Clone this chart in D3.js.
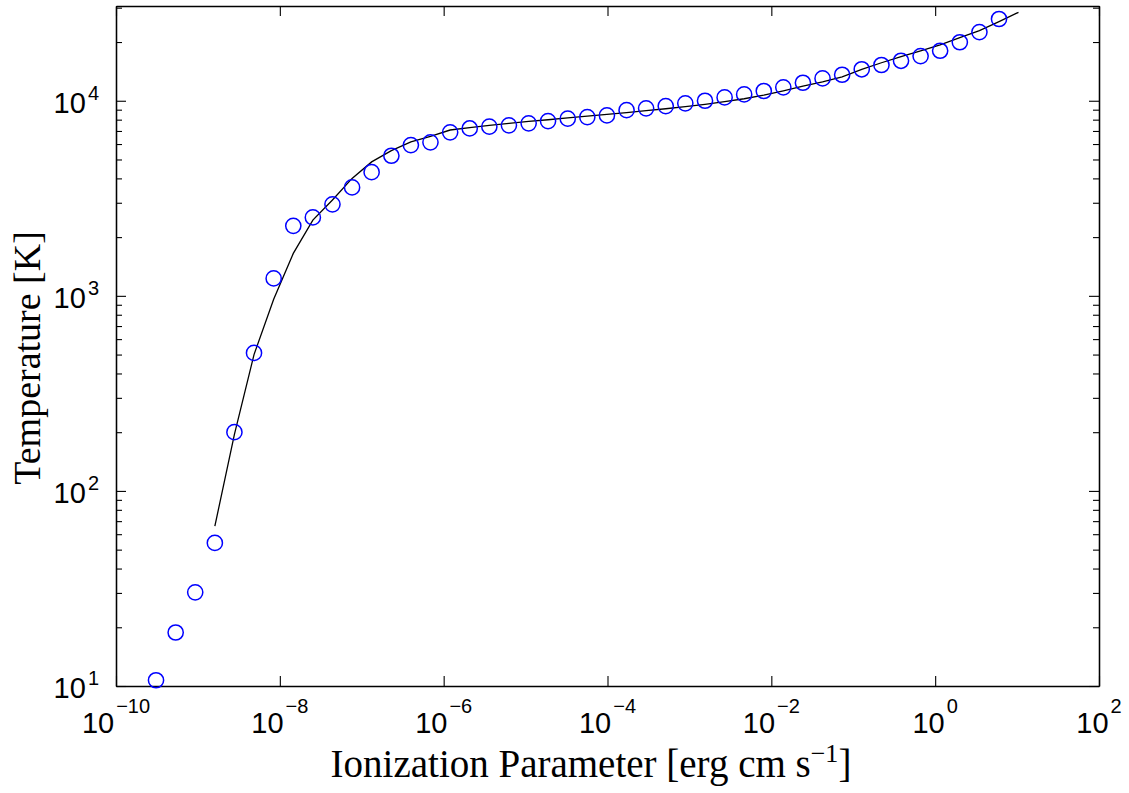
<!DOCTYPE html>
<meta charset="utf-8">
<script src="https://d3js.org/d3.v7.min.js"></script>
<style>
  body { margin: 0; background: #fff; }
</style>
<div id="chart"></div>
<script>

    // measured points: ionization parameter [erg cm s^-1] and temperature [K]
    var pointXi = [3.08e-10, 5.35e-10, 9.27e-10, 1.61e-9, 2.79e-9, 4.84e-9, 8.41e-9, 1.46e-8,
        2.53e-8, 4.39e-8, 7.62e-8, 1.32e-7, 2.30e-7, 3.98e-7, 6.90e-7, 1.20e-6,
        2.08e-6, 3.61e-6, 6.26e-6, 1.09e-5, 1.88e-5, 3.27e-5, 5.67e-5, 9.84e-5,
        1.71e-4, 2.96e-4, 5.14e-4, 8.91e-4, 1.55e-3, 2.69e-3, 4.66e-3, 8.09e-3,
        1.40e-2, 2.43e-2, 4.22e-2, 7.32e-2, 0.127, 0.221, 0.383, 0.664,
        1.15, 2.0, 3.47, 6.02];
    var pointT = [10.7, 18.8, 30.2, 54.1, 200, 510, 1228, 2285,
        2523, 2944, 3597, 4304, 5224, 5929, 6124, 6886,
        7210, 7362, 7480, 7660, 7870, 8090, 8250, 8410,
        8950, 9140, 9390, 9700, 10000, 10400, 10780, 11220,
        11720, 12370, 13020, 13590, 14500, 15250, 16030, 16950,
        18040, 19950, 22500, 26240];

    // model curve
    var curveXi = [1.61e-9, 2.79e-9, 4.84e-9, 8.41e-9, 1.46e-8, 2.53e-8, 4.39e-8, 7.62e-8,
        1.32e-7, 2.30e-7, 3.98e-7, 6.90e-7, 1.20e-6, 2.08e-6, 3.61e-6, 6.26e-6,
        1.09e-5, 1.88e-5, 3.27e-5, 5.67e-5, 9.84e-5, 1.71e-4, 2.96e-4, 5.14e-4,
        8.91e-4, 1.55e-3, 2.69e-3, 4.66e-3, 8.09e-3, 1.40e-2, 2.43e-2, 4.22e-2,
        7.32e-2, 0.127, 0.221, 0.383, 0.664, 1.15, 2.0, 3.47, 6.02, 10.4];
    var curveT = [66, 195, 500, 960, 1650, 2443, 3100, 4000,
        4860, 5550, 6150, 6570, 7080, 7280, 7480, 7660,
        7840, 7990, 8180, 8350, 8520, 8690, 8900, 9100,
        9320, 9590, 9890, 10240, 10690, 11250, 11890, 12500,
        13270, 14500, 15660, 16820, 18040, 19360, 21040, 22860, 25420, 28400];

    // tick exponents
    var xTickExp = [-10, -8, -6, -4, -2, 0, 2];
    var yTickExp = [1, 2, 3, 4];

    var margin = {top: 6, right: 30, bottom: 107, left: 116},
        width = 1129 - margin.left - margin.right,
        height = 793 - margin.top - margin.bottom;

    var svg = d3.select("#chart")
        .append("svg")
            .attr("width", 1129)
            .attr("height", 793)
        .append("g")
            .attr("transform", "translate(" + margin.left + "," + margin.top + ")");

    var x = d3.scaleLog()
        .domain([1e-10, 1e2])
        .range([0, width]);

    var y = d3.scaleLog()
        .domain([10, 30600])
        .range([height, 0]);

    var xMajor = xTickExp.map(function(e) { return Math.pow(10, e); });
    var yMajor = yTickExp.map(function(e) { return Math.pow(10, e); });
    var yMinor = [];
    yTickExp.forEach(function(e) {
        for (var m = 2; m <= 9; m++) {
            var v = m * Math.pow(10, e);
            if (v <= y.domain()[1]) yMinor.push(v);
        }
    });

    function styleAxis(g) {
        g.selectAll("path.domain").attr("stroke", "#000").attr("stroke-width", 1.3);
        g.selectAll(".tick line").attr("stroke", "#000").attr("stroke-width", 1.1);
    }

    // box + inward ticks
    svg.append("g")
        .attr("transform", "translate(0," + height + ")")
        .call(d3.axisBottom(x).tickValues(xMajor).tickSizeInner(-10).tickSizeOuter(0).tickFormat(""))
        .call(styleAxis);
    svg.append("g")
        .call(d3.axisTop(x).tickValues(xMajor).tickSizeInner(-10).tickSizeOuter(0).tickFormat(""))
        .call(styleAxis);
    svg.append("g")
        .call(d3.axisLeft(y).tickValues(yMajor).tickSizeInner(-10).tickSizeOuter(0).tickFormat(""))
        .call(styleAxis);
    svg.append("g")
        .call(d3.axisLeft(y).tickValues(yMinor).tickSizeInner(-6).tickSizeOuter(0).tickFormat(""))
        .call(styleAxis);
    svg.append("g")
        .attr("transform", "translate(" + width + ",0)")
        .call(d3.axisRight(y).tickValues(yMajor).tickSizeInner(-10).tickSizeOuter(0).tickFormat(""))
        .call(styleAxis);
    svg.append("g")
        .attr("transform", "translate(" + width + ",0)")
        .call(d3.axisRight(y).tickValues(yMinor).tickSizeInner(-6).tickSizeOuter(0).tickFormat(""))
        .call(styleAxis);

    function supText(e) { return e < 0 ? "\u2212" + Math.abs(e) : String(e); }

    // x tick labels
    var xl = svg.append("g").selectAll("text")
        .data(xTickExp)
        .enter()
        .append("text")
            .attr("x", function(d) { return x(Math.pow(10, d)); })
            .attr("y", height + 47)
            .attr("text-anchor", "middle")
            .style("font-family", "'Liberation Sans', Arial, sans-serif")
            .style("font-size", "29px");
    xl.append("tspan").text("10");
    xl.append("tspan")
        .attr("dx", 2)
        .attr("dy", -20)
        .style("font-size", "20px")
        .text(function(d) { return supText(d); });

    // y tick labels
    var yl = svg.append("g").selectAll("text")
        .data(yTickExp)
        .enter()
        .append("text")
            .attr("x", -17)
            .attr("y", function(d) { return y(Math.pow(10, d)) + 12; })
            .attr("text-anchor", "end")
            .style("font-family", "'Liberation Sans', Arial, sans-serif")
            .style("font-size", "29px");
    yl.append("tspan").text("10");
    yl.append("tspan")
        .attr("dx", 2)
        .attr("dy", -13)
        .style("font-size", "20px")
        .text(function(d) { return supText(d); });

    // model curve
    var curve = curveXi.map(function(d, i) { return [d, curveT[i]]; });
    svg.append("path")
        .datum(curve)
        .attr("d", d3.line()
            .x(function(d) { return x(d[0]); })
            .y(function(d) { return y(d[1]); }))
        .attr("fill", "none")
        .attr("stroke", "#000")
        .attr("stroke-width", 1.3);

    // points
    svg.selectAll("circle.pt")
        .data(pointXi)
        .enter()
        .append("circle")
            .attr("class", "pt")
            .attr("cx", function(d) { return x(d); })
            .attr("cy", function(d, i) { return y(pointT[i]); })
            .attr("r", 7.6)
            .attr("fill", "none")
            .attr("stroke", "#0000ff")
            .attr("stroke-width", 1.5);

    // axis titles
    var xt = d3.select("svg").append("text")
        .attr("x", 591)
        .attr("y", 777)
        .attr("text-anchor", "middle")
        .style("font-family", "'Liberation Serif', 'Times New Roman', serif")
        .style("font-size", "39px");
    xt.append("tspan").text("Ionization Parameter [erg cm s");
    xt.append("tspan").attr("dy", -15).style("font-size", "26px").text("\u22121");
    xt.append("tspan").attr("dy", 15).text("]");

    d3.select("svg").append("text")
        .attr("transform", "rotate(-90)")
        .attr("x", -358)
        .attr("y", 40)
        .attr("text-anchor", "middle")
        .style("font-family", "'Liberation Serif', 'Times New Roman', serif")
        .style("font-size", "38px")
        .text("Temperature [K]");

</script>
